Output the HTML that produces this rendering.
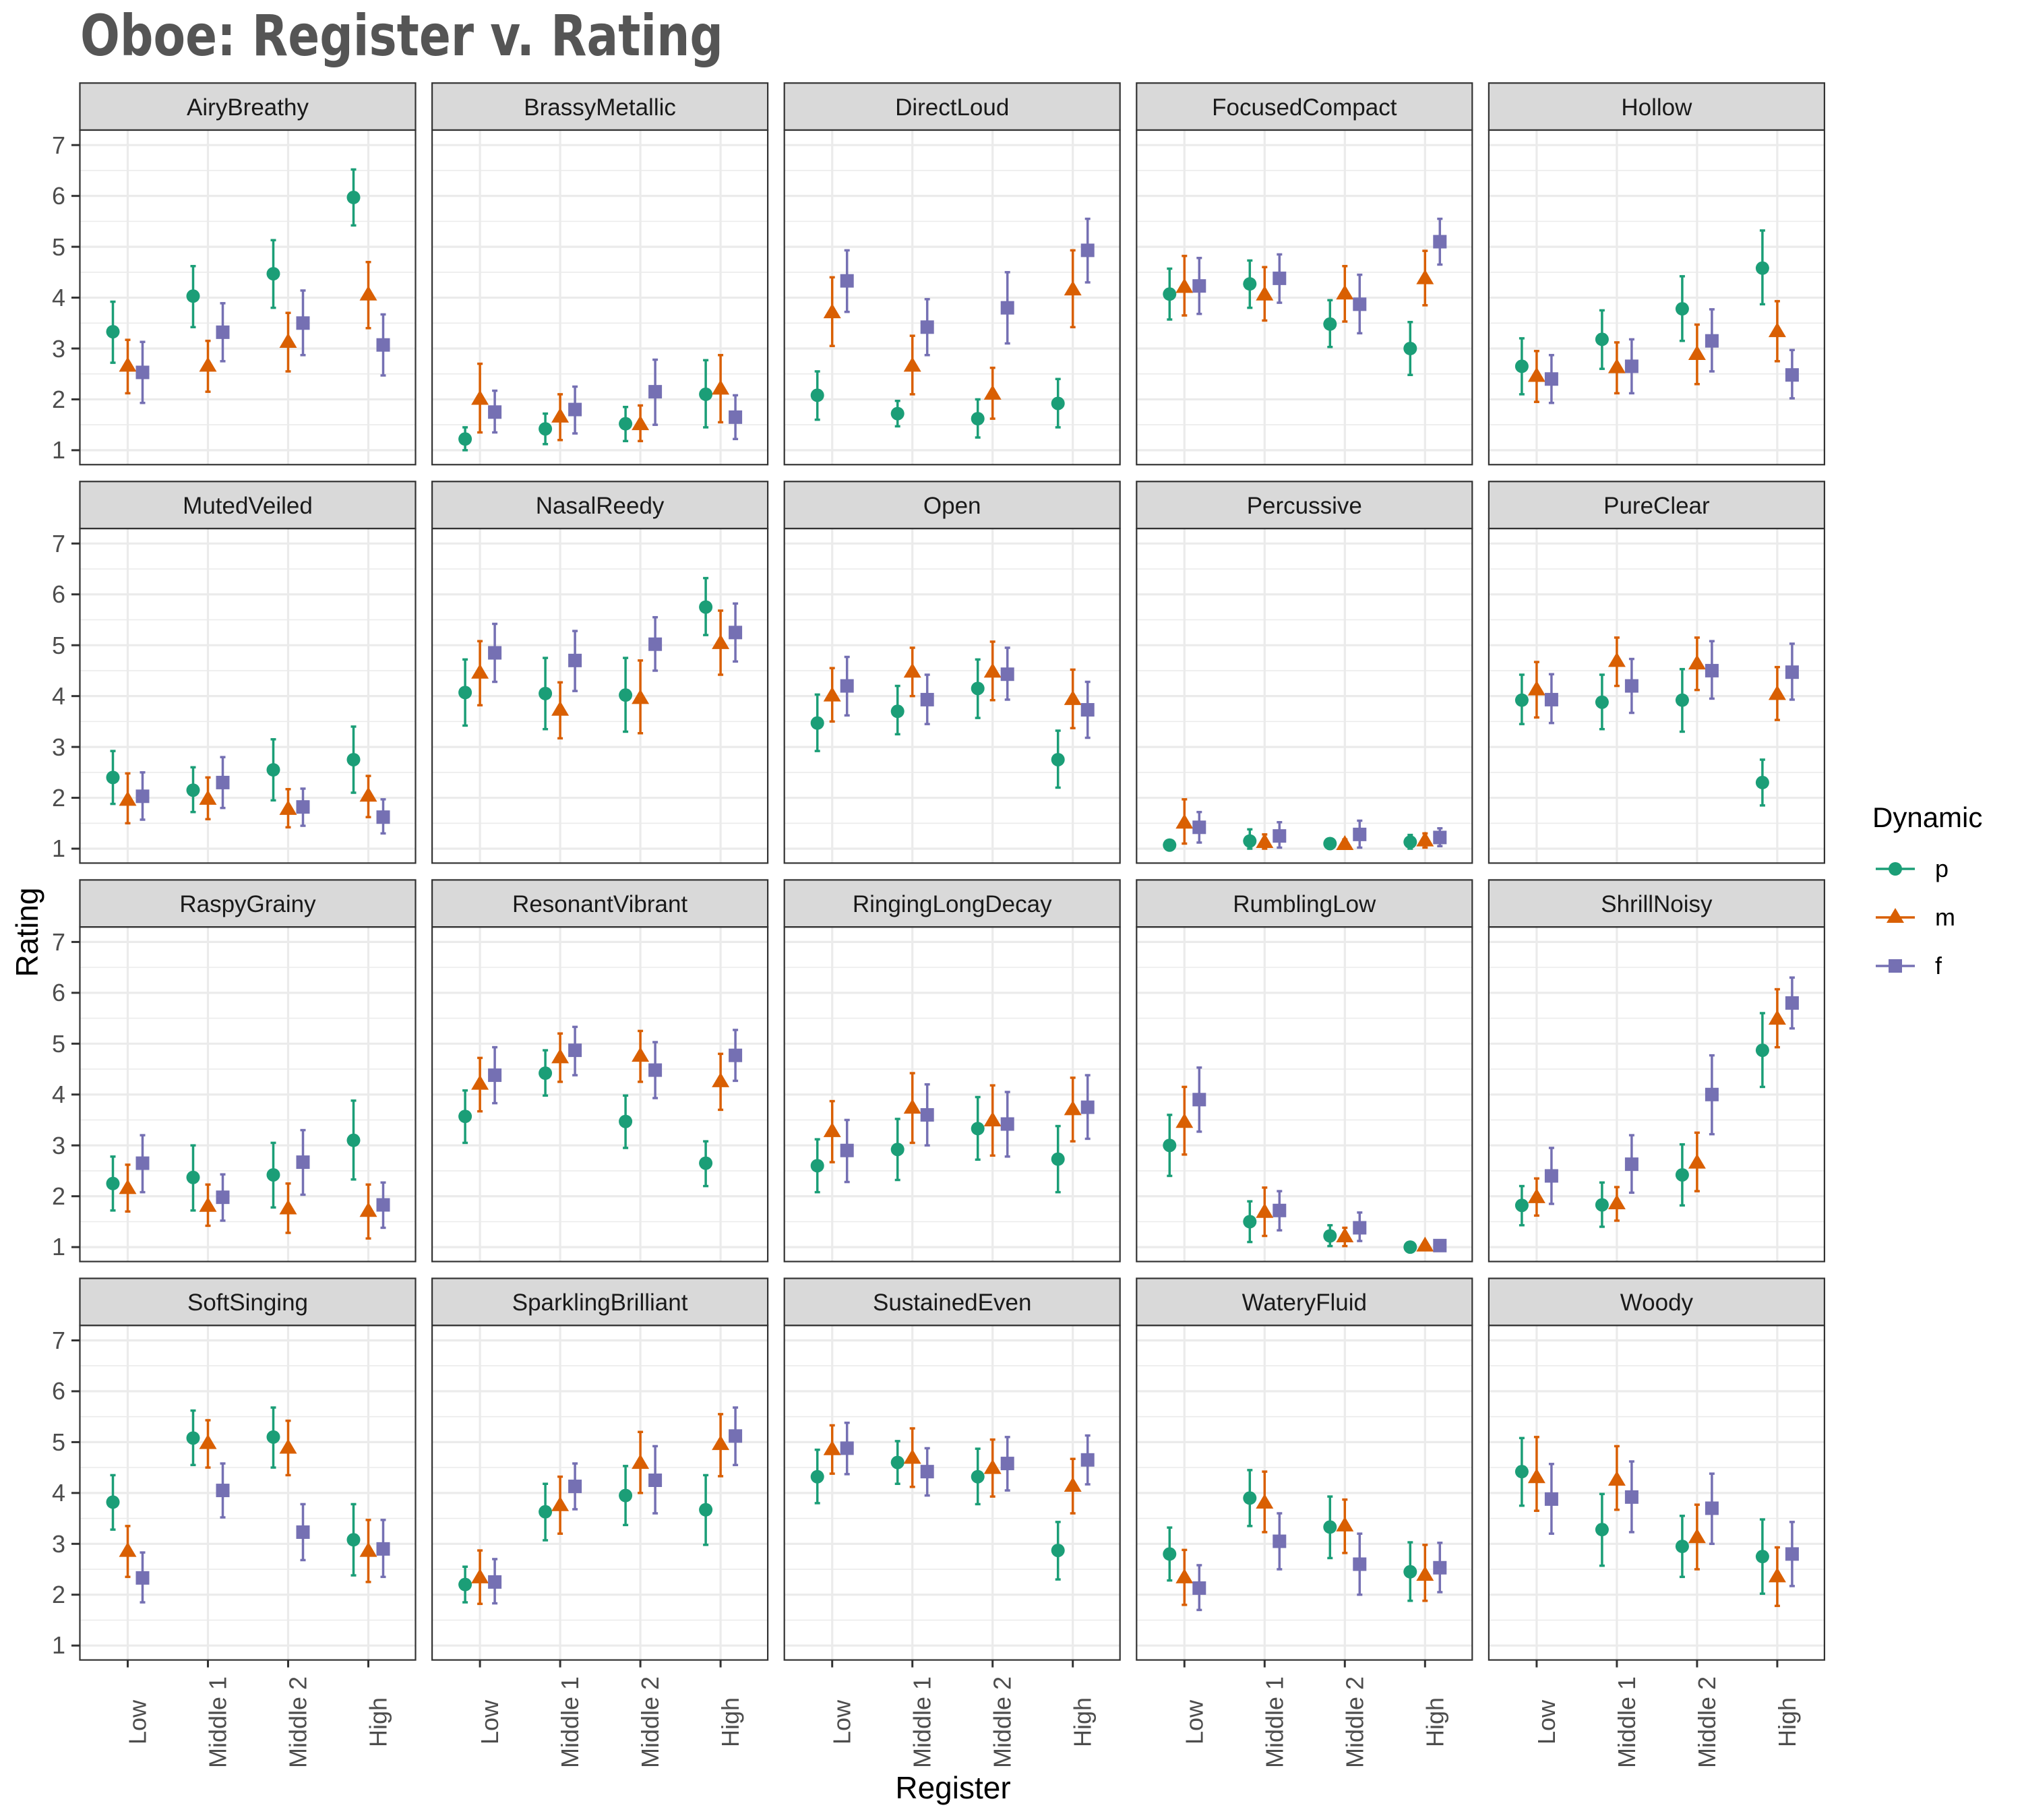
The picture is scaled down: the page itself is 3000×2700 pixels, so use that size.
<!DOCTYPE html>
<html><head><meta charset="utf-8"><style>
html,body{margin:0;padding:0;background:#fff;}
svg{display:block;}
text{font-family:"Liberation Sans",Arial,sans-serif;}
</style></head><body>
<svg id="s" width="3000" height="2700" viewBox="0 0 3000 2700" xmlns="http://www.w3.org/2000/svg">
<rect width="3000" height="2700" fill="#fff"/>
<g id="g"></g>
<text x="119" y="82" font-size="84" font-weight="bold" fill="#555555" style="font-family:'DejaVu Sans',sans-serif" textLength="954" lengthAdjust="spacingAndGlyphs">Oboe: Register v. Rating</text>
<g font-size="35" fill="#1a1a1a" text-anchor="middle">
<text x="367.5" y="171">AiryBreathy</text><text x="890.1" y="171">BrassyMetallic</text><text x="1412.7" y="171">DirectLoud</text><text x="1935.3" y="171">FocusedCompact</text><text x="2457.9" y="171">Hollow</text>
<text x="367.5" y="762">MutedVeiled</text><text x="890.1" y="762">NasalReedy</text><text x="1412.7" y="762">Open</text><text x="1935.3" y="762">Percussive</text><text x="2457.9" y="762">PureClear</text>
<text x="367.5" y="1353">RaspyGrainy</text><text x="890.1" y="1353">ResonantVibrant</text><text x="1412.7" y="1353">RingingLongDecay</text><text x="1935.3" y="1353">RumblingLow</text><text x="2457.9" y="1353">ShrillNoisy</text>
<text x="367.5" y="1944">SoftSinging</text><text x="890.1" y="1944">SparklingBrilliant</text><text x="1412.7" y="1944">SustainedEven</text><text x="1935.3" y="1944">WateryFluid</text><text x="2457.9" y="1944">Woody</text>
</g>
<g font-size="36" fill="#4d4d4d" text-anchor="end">
<text x="97" y="228">7</text><text x="97" y="303">6</text><text x="97" y="379">5</text><text x="97" y="454">4</text><text x="97" y="530">3</text><text x="97" y="605">2</text><text x="97" y="680">1</text>
<text x="97" y="819">7</text><text x="97" y="894">6</text><text x="97" y="970">5</text><text x="97" y="1045">4</text><text x="97" y="1121">3</text><text x="97" y="1196">2</text><text x="97" y="1271">1</text>
<text x="97" y="1410">7</text><text x="97" y="1485">6</text><text x="97" y="1561">5</text><text x="97" y="1636">4</text><text x="97" y="1712">3</text><text x="97" y="1787">2</text><text x="97" y="1862">1</text>
<text x="97" y="2001">7</text><text x="97" y="2076">6</text><text x="97" y="2152">5</text><text x="97" y="2227">4</text><text x="97" y="2303">3</text><text x="97" y="2378">2</text><text x="97" y="2453">1</text>
</g>
<g font-size="36" fill="#4d4d4d" text-anchor="middle">
<text transform="translate(216.5,2555) rotate(-90)">Low</text><text transform="translate(335.5,2555) rotate(-90)">Middle 1</text><text transform="translate(454.5,2555) rotate(-90)">Middle 2</text><text transform="translate(573.5,2555) rotate(-90)">High</text>
<text transform="translate(739.1,2555) rotate(-90)">Low</text><text transform="translate(858.1,2555) rotate(-90)">Middle 1</text><text transform="translate(977.1,2555) rotate(-90)">Middle 2</text><text transform="translate(1096.1,2555) rotate(-90)">High</text>
<text transform="translate(1261.7,2555) rotate(-90)">Low</text><text transform="translate(1380.7,2555) rotate(-90)">Middle 1</text><text transform="translate(1499.7,2555) rotate(-90)">Middle 2</text><text transform="translate(1618.7,2555) rotate(-90)">High</text>
<text transform="translate(1784.3,2555) rotate(-90)">Low</text><text transform="translate(1903.3,2555) rotate(-90)">Middle 1</text><text transform="translate(2022.3,2555) rotate(-90)">Middle 2</text><text transform="translate(2141.3,2555) rotate(-90)">High</text>
<text transform="translate(2306.9,2555) rotate(-90)">Low</text><text transform="translate(2425.9,2555) rotate(-90)">Middle 1</text><text transform="translate(2544.9,2555) rotate(-90)">Middle 2</text><text transform="translate(2663.9,2555) rotate(-90)">High</text>
</g>
<text x="1414" y="2668" font-size="46" fill="#000" text-anchor="middle">Register</text>
<text transform="translate(56,1383) rotate(-90)" font-size="46" fill="#000" text-anchor="middle">Rating</text>
<text x="2778" y="1227" font-size="42" fill="#000">Dynamic</text>
<g font-size="36" fill="#000"><text x="2871" y="1301">p</text><text x="2871" y="1373">m</text><text x="2871" y="1445">f</text></g>
<g id="leg"></g>
</svg>
<script>
var D=[
[[3.33,2.72,3.92],[2.65,2.12,3.17],[2.53,1.93,3.13],[4.03,3.42,4.62],[2.65,2.15,3.15],[3.32,2.75,3.89],[4.47,3.8,5.13],[3.12,2.55,3.7],[3.5,2.87,4.14],[5.97,5.42,6.52],[4.05,3.4,4.7],[3.07,2.47,3.67]],
[[1.22,1.0,1.45],[2.0,1.35,2.7],[1.75,1.35,2.17],[1.42,1.12,1.72],[1.65,1.2,2.1],[1.8,1.33,2.25],[1.52,1.18,1.85],[1.5,1.18,1.88],[2.15,1.5,2.78],[2.1,1.45,2.77],[2.2,1.55,2.87],[1.65,1.22,2.08]],
[[2.08,1.6,2.55],[3.7,3.05,4.4],[4.33,3.72,4.93],[1.72,1.47,1.97],[2.65,2.1,3.25],[3.42,2.87,3.97],[1.62,1.25,2.0],[2.1,1.62,2.62],[3.8,3.1,4.5],[1.92,1.45,2.4],[4.15,3.42,4.93],[4.93,4.3,5.55]],
[[4.07,3.57,4.57],[4.2,3.65,4.82],[4.23,3.68,4.78],[4.27,3.8,4.73],[4.05,3.55,4.6],[4.38,3.9,4.85],[3.48,3.03,3.95],[4.07,3.53,4.62],[3.87,3.3,4.45],[3.0,2.48,3.52],[4.37,3.85,4.92],[5.1,4.65,5.55]],
[[2.65,2.1,3.2],[2.45,1.95,2.95],[2.4,1.93,2.87],[3.18,2.6,3.75],[2.62,2.12,3.12],[2.65,2.12,3.18],[3.78,3.15,4.42],[2.88,2.3,3.47],[3.15,2.55,3.77],[4.58,3.87,5.32],[3.33,2.75,3.93],[2.48,2.02,2.97]],
[[2.4,1.88,2.92],[1.95,1.5,2.48],[2.03,1.57,2.5],[2.15,1.72,2.6],[1.97,1.58,2.4],[2.3,1.8,2.8],[2.55,1.95,3.15],[1.77,1.42,2.17],[1.82,1.45,2.18],[2.75,2.1,3.4],[2.03,1.62,2.43],[1.62,1.3,1.97]],
[[4.07,3.42,4.72],[4.45,3.82,5.08],[4.85,4.28,5.42],[4.05,3.35,4.75],[3.72,3.17,4.27],[4.7,4.1,5.28],[4.02,3.3,4.75],[3.95,3.27,4.7],[5.02,4.5,5.55],[5.75,5.2,6.32],[5.03,4.42,5.68],[5.25,4.68,5.82]],
[[3.47,2.92,4.03],[4.0,3.5,4.55],[4.2,3.62,4.77],[3.7,3.25,4.2],[4.47,4.0,4.95],[3.93,3.45,4.42],[4.15,3.57,4.72],[4.47,3.92,5.07],[4.43,3.93,4.95],[2.75,2.2,3.32],[3.93,3.37,4.52],[3.73,3.18,4.28]],
[[1.07,1.0,1.13],[1.5,1.1,1.97],[1.42,1.12,1.72],[1.15,1.0,1.38],[1.12,1.0,1.28],[1.25,1.02,1.52],[1.1,1.0,1.15],[1.08,1.0,1.18],[1.28,1.02,1.55],[1.13,1.0,1.27],[1.15,1.02,1.3],[1.22,1.05,1.4]],
[[3.92,3.45,4.42],[4.12,3.58,4.67],[3.93,3.47,4.43],[3.88,3.35,4.42],[4.68,4.2,5.15],[4.2,3.67,4.73],[3.92,3.3,4.53],[4.63,4.12,5.15],[4.5,3.95,5.08],[2.3,1.85,2.75],[4.03,3.53,4.57],[4.47,3.93,5.03]],
[[2.25,1.72,2.78],[2.15,1.7,2.62],[2.65,2.08,3.2],[2.37,1.72,3.0],[1.8,1.42,2.23],[1.98,1.52,2.43],[2.42,1.78,3.05],[1.75,1.28,2.25],[2.67,2.03,3.3],[3.1,2.33,3.88],[1.7,1.17,2.23],[1.83,1.38,2.27]],
[[3.57,3.05,4.08],[4.2,3.67,4.72],[4.38,3.83,4.93],[4.42,3.98,4.87],[4.72,4.25,5.2],[4.87,4.38,5.33],[3.47,2.95,3.98],[4.75,4.25,5.25],[4.48,3.93,5.03],[2.65,2.2,3.08],[4.25,3.7,4.8],[4.77,4.27,5.27]],
[[2.6,2.08,3.12],[3.27,2.67,3.87],[2.9,2.28,3.5],[2.92,2.32,3.52],[3.73,3.05,4.42],[3.6,3.0,4.2],[3.33,2.72,3.95],[3.48,2.8,4.18],[3.42,2.78,4.05],[2.73,2.08,3.38],[3.7,3.08,4.33],[3.75,3.13,4.38]],
[[3.0,2.4,3.6],[3.45,2.82,4.15],[3.9,3.27,4.53],[1.5,1.1,1.9],[1.68,1.22,2.17],[1.72,1.33,2.1],[1.22,1.02,1.43],[1.2,1.02,1.38],[1.38,1.12,1.68],[1.0,1.0,1.0],[1.02,1.0,1.05],[1.03,1.0,1.07]],
[[1.82,1.43,2.2],[1.97,1.62,2.35],[2.4,1.85,2.95],[1.83,1.4,2.27],[1.85,1.52,2.18],[2.63,2.07,3.2],[2.42,1.82,3.02],[2.65,2.1,3.25],[4.0,3.22,4.77],[4.87,4.15,5.6],[5.48,4.93,6.07],[5.8,5.3,6.3]],
[[3.82,3.28,4.35],[2.85,2.35,3.35],[2.33,1.85,2.83],[5.08,4.55,5.62],[4.97,4.5,5.43],[4.05,3.52,4.58],[5.1,4.5,5.68],[4.88,4.35,5.42],[3.23,2.68,3.78],[3.08,2.38,3.78],[2.85,2.25,3.47],[2.9,2.35,3.47]],
[[2.2,1.85,2.55],[2.33,1.82,2.87],[2.25,1.83,2.7],[3.63,3.07,4.18],[3.75,3.2,4.32],[4.13,3.68,4.58],[3.95,3.37,4.53],[4.58,4.0,5.2],[4.25,3.6,4.92],[3.67,2.98,4.35],[4.95,4.33,5.55],[5.12,4.55,5.68]],
[[4.32,3.8,4.85],[4.85,4.38,5.33],[4.88,4.37,5.38],[4.6,4.18,5.02],[4.68,4.12,5.27],[4.42,3.95,4.88],[4.32,3.78,4.87],[4.48,3.93,5.05],[4.58,4.05,5.1],[2.87,2.3,3.43],[4.13,3.6,4.67],[4.65,4.17,5.13]],
[[2.8,2.28,3.32],[2.33,1.8,2.88],[2.13,1.7,2.58],[3.9,3.35,4.45],[3.8,3.23,4.42],[3.05,2.5,3.6],[3.33,2.72,3.93],[3.35,2.82,3.87],[2.6,2.0,3.2],[2.45,1.88,3.03],[2.38,1.88,2.98],[2.53,2.05,3.02]],
[[4.42,3.75,5.08],[4.3,3.65,5.1],[3.88,3.2,4.57],[3.28,2.57,3.98],[4.25,3.67,4.92],[3.92,3.23,4.62],[2.95,2.35,3.55],[3.12,2.5,3.77],[3.7,3.0,4.38],[2.75,2.02,3.48],[2.35,1.78,2.93],[2.8,2.17,3.43]]
];
var C=["#1b9e77","#d95f02","#7570b3"];
function marker(k,x,y){
 if(k==0)return '<circle cx="'+x+'" cy="'+y+'" r="10" fill="'+C[0]+'"/>';
 if(k==1)return '<polygon points="'+(x-13)+','+(y+8)+' '+(x+13)+','+(y+8)+' '+x+','+(y-14)+'" fill="'+C[1]+'"/>';
 return '<rect x="'+(x-10)+'" y="'+(y-10)+'" width="20" height="20" fill="'+C[2]+'"/>';
}
var h='';
for(var r=0;r<4;r++)for(var c=0;c<5;c++){
 var L=118.5+522.6*c, T=123.2+591.1*r, PT=T+69.8, PB=T+566.1, R=L+498;
 var Y=function(v){return T+92+(7-v)*75.45;};
 h+='<rect x="'+L+'" y="'+PT+'" width="498" height="'+(PB-PT)+'" fill="#fff"/>';
 for(var v=1.5;v<7;v+=1)h+='<line x1="'+L+'" x2="'+R+'" y1="'+Y(v)+'" y2="'+Y(v)+'" stroke="#ebebeb" stroke-width="1.6"/>';
 for(var v=1;v<=7;v++)h+='<line x1="'+L+'" x2="'+R+'" y1="'+Y(v)+'" y2="'+Y(v)+'" stroke="#ebebeb" stroke-width="3.2"/>';
 for(var i=0;i<4;i++){var gx=L+71+119*i;h+='<line x1="'+gx+'" x2="'+gx+'" y1="'+PT+'" y2="'+PB+'" stroke="#ebebeb" stroke-width="3.2"/>';}
 var d=D[r*5+c];
 for(var i=0;i<4;i++)for(var k=0;k<3;k++){
  var e=d[i*3+k], x=L+71+119*i+(k-1)*22, col=C[k];
  var y0=Y(e[1]),y1=Y(e[2]);
  h+='<line x1="'+x+'" x2="'+x+'" y1="'+y0+'" y2="'+y1+'" stroke="'+col+'" stroke-width="3.5"/>';
  h+='<line x1="'+(x-4)+'" x2="'+(x+4)+'" y1="'+y0+'" y2="'+y0+'" stroke="'+col+'" stroke-width="3.5"/>';
  h+='<line x1="'+(x-4)+'" x2="'+(x+4)+'" y1="'+y1+'" y2="'+y1+'" stroke="'+col+'" stroke-width="3.5"/>';
  h+=marker(k,x,Y(e[0]));
 }
 h+='<rect x="'+L+'" y="'+PT+'" width="498" height="'+(PB-PT)+'" fill="none" stroke="#333" stroke-width="2.2"/>';
 h+='<rect x="'+L+'" y="'+T+'" width="498" height="69.7" fill="#d9d9d9" stroke="#333" stroke-width="2.2"/>';
 if(c==0)for(var v=1;v<=7;v++)h+='<line x1="106" x2="'+L+'" y1="'+Y(v)+'" y2="'+Y(v)+'" stroke="#333" stroke-width="3"/>';
 if(r==3)for(var i=0;i<4;i++){var gx=L+71+119*i;h+='<line x1="'+gx+'" x2="'+gx+'" y1="'+PB+'" y2="'+(PB+11)+'" stroke="#333" stroke-width="3"/>';}
}
document.getElementById('g').innerHTML=h;
var lg='';
[1289,1361,1433].forEach(function(y,k){
 lg+='<line x1="2783" x2="2841" y1="'+y+'" y2="'+y+'" stroke="'+C[k]+'" stroke-width="3.5"/>';
 lg+=marker(k,2812,y);
});
document.getElementById('leg').innerHTML=lg;
</script>
</body></html>
